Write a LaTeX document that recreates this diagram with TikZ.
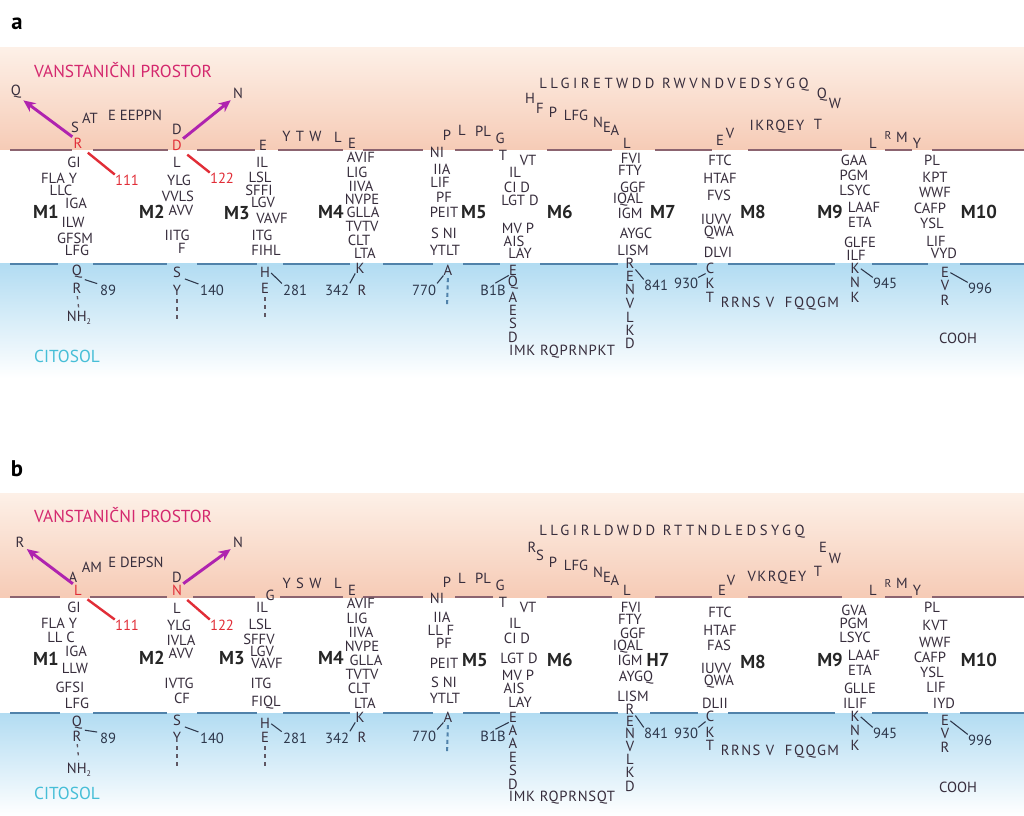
\documentclass[tikz,border=0pt]{standalone}
\usepackage{fontspec}
\setmainfont{PT Sans}
\usetikzlibrary{arrows.meta}
\definecolor{rescol}{RGB}{55,45,60}
\definecolor{numcol}{RGB}{45,55,75}
\definecolor{redc}{RGB}{225,45,55}
\definecolor{magc}{RGB}{175,35,175}
\definecolor{pinkc}{RGB}{212,40,110}
\definecolor{cyanc}{RGB}{70,190,215}
\definecolor{memtop}{RGB}{140,100,112}
\definecolor{membot}{RGB}{80,130,170}
\definecolor{peachA}{RGB}{253,240,231}
\definecolor{peachB}{RGB}{246,203,182}
\definecolor{blueA}{RGB}{178,220,242}
\tikzset{
 res/.style={font=\fontsize{11}{12}\selectfont, text=rescol, inner sep=0pt},
 sres/.style={font=\fontsize{8.5}{10}\selectfont, text=rescol, inner sep=0pt},
 rres/.style={font=\fontsize{11}{12}\selectfont, text=redc, inner sep=0pt},
 num/.style={font=\fontsize{11}{12}\selectfont, text=numcol, inner sep=0pt},
 tmlab/.style={font=\fontsize{14}{15}\selectfont\bfseries, text=black!85, inner sep=0pt},
 panlab/.style={font=\fontsize{17}{18}\selectfont\bfseries, text=black, inner sep=0pt},
 looptxt/.style={font=\fontsize{11}{12}\selectfont\addfontfeatures{LetterSpace=24}, text=rescol, inner sep=0pt},
 trk/.style={font=\fontsize{11}{12}\selectfont\addfontfeatures{LetterSpace=10}, text=rescol, inner sep=0pt},
 ltrk/.style={font=\fontsize{11}{12}\selectfont\addfontfeatures{LetterSpace=5}, text=rescol, inner sep=0pt},
 region/.style={font=\fontsize{13}{14}\selectfont, inner sep=0pt},
 memup/.style={draw=memtop, line width=2.2pt},
 memlo/.style={draw=membot, line width=2.2pt},
 marrow/.style={draw=magc, line width=2.2pt, -{Stealth[length=9pt,width=8pt]}},
 redline/.style={draw=redc, line width=1.8pt},
 tick/.style={draw=numcol, line width=0.8pt},
 dotl/.style={draw=rescol!80, line width=1pt, dash pattern=on 2.5pt off 3.5pt},
 bdash/.style={draw=membot, line width=1.6pt, dash pattern=on 3pt off 2.5pt},
}
\begin{document}
\begin{tikzpicture}[x=0.75pt,y=-0.75pt]
\useasboundingbox (0,0) rectangle (1024,816);
\fill[white] (0,0) rectangle (1024,816);
% ---------- backgrounds
\fill[top color=peachA,bottom color=peachB] (0,48) rectangle (1024,150);
\fill[top color=blueA,bottom color=white] (0,264) rectangle (1024,378);
\fill[top color=peachA,bottom color=peachB] (0,493) rectangle (1024,597);
\fill[top color=blueA,bottom color=white] (0,713) rectangle (1024,816);
% ---------- membranes
\foreach \p/\q in {10/72,93/168,197/255,278/343,363/423,455/493,547/612,655/712,748/842,885/912,932/1024}
  \draw[memup] (\p,150) -- (\q,150);
\foreach \p/\q in {10/58,93/167,197/257,283/350,383/433,463/500,540/618,650/697,728/835,872/928,960/1024}
  \draw[memlo] (\p,264) -- (\q,264);
\foreach \p/\q in {10/60,90/167,193/255,280/343,363/423,455/493,547/612,655/712,748/842,885/912,932/1024}
  \draw[memup] (\p,597) -- (\q,597);
\foreach \p/\q in {10/60,93/167,197/257,283/350,383/433,463/500,540/618,650/698,728/835,872/928,960/1024}
  \draw[memlo] (\p,713) -- (\q,713);

% ================= PANEL A =================
\node[panlab] (aLab) at (17,24) {a};
\node[region,text=pinkc] (aVan) at (123,70) {VANSTANIČNI PROSTOR};
\node[region,text=cyanc] (aCit) at (67,356) {CITOSOL};
% extracellular N-terminal part
\node[res] (aQ) at (16,92) {Q};
\node[res] (aS) at (75,127) {S};
\node[res] (aAT) at (90,118) {AT};
\node[res] (aEE) at (135,115) {E EEPPN};
\node[rres] (aR) at (78,143) {R};
\node[rres] (a111) at (127,180) {111};
\node[res] (aD) at (177,129) {D};
\node[rres] (aDr) at (177,145) {D};
\node[res] (aN) at (238,93) {N};
\node[rres] (a122) at (222,178) {122};
\node[res] (aE3) at (263,145) {E};
\node[trk] (aYTW) at (302,136) {Y T W};
\node[res] (aL4) at (338,137) {L};
\node[res] (aE4) at (352,143) {E};
% TM1
\node[res] (aGI) at (74,162) {GI};
\node[res] (aFLAY) at (59,178) {FLA Y};
\node[res] (aLLC) at (61,190) {LLC};
\node[res] (aIGA) at (76,203) {IGA};
\node[tmlab] (aM1) at (46,212) {M1};
\node[res] (aILW) at (73,222) {ILW};
\node[res] (aGFSM) at (75,238) {GFSM};
\node[res] (aLFG) at (77,250) {LFG};
\node[res] (aQ1) at (77,272) {Q};
\node[num] (a89) at (108,290) {89};
\node[res] (aR1) at (77,288) {R};
\node[res] (aNH) at (79,318) {NH\raisebox{-2.5pt}{\fontsize{6}{6}\selectfont 2}};
% TM2
\node[res] (aL2) at (177,162) {L};
\node[res] (aYLG) at (179,180) {YLG};
\node[res] (aVVLS) at (178,196) {VVLS};
\node[tmlab] (aM2) at (152,212) {M2};
\node[res] (aAVV) at (181,210) {AVV};
\node[res] (aIITG) at (177,235) {IITG};
\node[res] (aF2) at (182,248) {F};
\node[res] (aS2) at (177,272) {S};
\node[num] (a140) at (212,290) {140};
\node[res] (aY2) at (177,290) {Y};
\coordinate (aY2e) at (177,320);
% TM3
\node[res] (aIL3) at (262,162) {IL};
\node[res] (aLSL) at (260,177) {LSL};
\node[res] (aSFFI) at (259,190) {SFFI};
\node[res] (aLGV) at (263,202) {LGV};
\node[tmlab] (aM3) at (237,213) {M3};
\node[res] (aVAVF) at (272,218) {VAVF};
\node[res] (aITG3) at (262,235) {ITG};
\node[res] (aFIHL) at (266,250) {FIHL};
\node[res] (aH3) at (265,272) {H};
\node[num] (a281) at (295,290) {281};
\node[res] (aE3b) at (265,288) {E};
\coordinate (aE3e) at (265,320);
% TM4
\node[res] (aAVIF) at (361,157) {AVIF};
\node[res] (aLIG) at (357,172) {LIG};
\node[res] (aIIVA) at (361,186) {IIVA};
\node[res] (aNVPE) at (362,199) {NVPE};
\node[tmlab] (aM4) at (331,212) {M4};
\node[res] (aGLLA) at (363,212) {GLLA};
\node[res] (aTVTV) at (362,226) {TVTV};
\node[res] (aCLT) at (359,240) {CLT};
\node[res] (aLTA) at (365,253) {LTA};
\node[res] (aK4) at (360,268) {K};
\node[num] (a342) at (337,290) {342};
\node[res] (aR4) at (362,290) {R};
% TM5
\node[res] (aP5) at (447,135) {P};
\node[res] (aL5) at (462,130) {L};
\node[res] (aPL5) at (483,131) {PL};
\node[res] (aG5) at (500,138) {G};
\node[res] (aNI) at (437,152) {NI};
\node[res] (aIIA) at (442,169) {IIA};
\node[res] (aLIF) at (440,182) {LIF};
\node[res] (aPF) at (444,197) {PF};
\node[res] (aPEIT) at (444,212) {PEIT};
\node[tmlab] (aM5) at (474,212) {M5};
\node[res] (aSNI) at (444,233) {S NI};
\node[res] (aYTLT) at (445,250) {YTLT};
\node[res] (aA5) at (448,270) {A};
\node[num] (a770) at (424,290) {770};
\coordinate (aA5e) at (447,306);
% TM6
\node[res] (aT6) at (503,155) {T};
\node[res] (aVT) at (528,160) {VT};
\node[res] (aIL6) at (515,172) {IL};
\node[res] (aCID) at (517,187) {CI D};
\node[res] (aLGTD) at (520,200) {LGT D};
\node[tmlab] (aM6) at (560,212) {M6};
\node[res] (aMVP) at (518,228) {MV P};
\node[res] (aAIS) at (514,241) {AIS};
\node[res] (aLAY) at (520,253) {LAY};
\foreach \t/\y [count=\i] in {E/270,Q/283,A/297,E/310,S/323,D/337}
  \node[res] (aCa\i) at (513,\y) {\t};
\node[ltrk] (aIMK) at (562,352) {IMK RQPRNPKT};
\node[num] (aB1B) at (493,290) {B1B};
% loop M6-M7
\node[looptxt] (aLoop) at (674,85) {LLGIRETWDD RWVNDVEDSYGQ};
\node[res] (aHh) at (530,98) {H};
\node[res] (aFf) at (540,108) {F};
\node[res] (aP7) at (553,112) {P};
\node[res] (aLFG7) at (576,115) {LFG};
\node[res] (aN7) at (598,122) {N};
\node[res] (aE7) at (607,127) {E};
\node[res] (aA7) at (615,130) {A};
\node[res] (aL7) at (627,143) {L};
\node[res] (aQ8) at (822,95) {Q};
\node[res] (aW8) at (835,103) {W};
\node[res] (aT8) at (818,124) {T};
\node[trk] (aIKR) at (777,127) {IKRQEY};
\node[res] (aE8) at (720,140) {E};
\node[res] (aV8) at (730,133) {V};
\node[res] (aL9) at (873,143) {L};
\node[sres] (aR9) at (888,135) {R};
\node[res] (aM9t) at (902,137) {M};
\node[res] (aY9) at (917,143) {Y};
% TM7
\node[res] (aFVI) at (631,158) {FVI};
\node[res] (aFTY) at (630,170) {FTY};
\node[res] (aGGF) at (633,187) {GGF};
\node[res] (aIQAL) at (628,200) {IQAL};
\node[res] (aIGM) at (630,213) {IGM};
\node[tmlab] (aM7) at (663,212) {M7};
\node[res] (aAYGC) at (636,233) {AYGC};
\node[res] (aLISM) at (633,250) {LISM};
\foreach \t/\y [count=\i] in {R/263,E/276,N/289,V/303,L/317,K/330,D/343}
  \node[res] (aCb\i) at (630,\y) {\t};
\node[num] (a841) at (656,285) {841};
\node[num] (a930) at (686,283) {930};
% TM8
\node[res] (aFTC) at (720,160) {FTC};
\node[res] (aHTAF) at (720,178) {HTAF};
\node[res] (aFVS) at (719,195) {FVS};
\node[tmlab] (aM8) at (753,212) {M8};
\node[res] (aIUVV) at (716,219) {IUVV};
\node[res] (aQWA) at (719,233) {QWA};
\node[res] (aDLVI) at (718,252) {DLVI};
\node[res] (aC8) at (710,268) {C};
\node[res] (aK8) at (710,283) {K};
\node[res] (aT8b) at (710,297) {T};
\node[trk] (aRRNS) at (780,304) {RRNS V \ FQQGM};
% TM9
\node[res] (aGAA) at (854,160) {GAA};
\node[res] (aPGM) at (854,175) {PGM};
\node[res] (aLSYC) at (855,190) {LSYC};
\node[res] (aLAAF) at (864,207) {LAAF};
\node[tmlab] (aM9) at (830,212) {M9};
\node[res] (aETA) at (860,222) {ETA};
\node[res] (aGLFE) at (860,242) {GLFE};
\node[res] (aILF) at (856,255) {ILF};
\node[res] (aK9) at (855,268) {K};
\node[num] (a945) at (885,283) {945};
\node[res] (aN9) at (855,282) {N};
\node[res] (aK9b) at (855,297) {K};
% TM10
\node[res] (aPL) at (932,160) {PL};
\node[res] (aKPT) at (935,177) {KPT};
\node[res] (aWWF) at (935,192) {WWF};
\node[res] (aCAFP) at (930,208) {CAFP};
\node[tmlab] (aM10) at (979,212) {M10};
\node[res] (aYSL) at (932,223) {YSL};
\node[res] (aLIF10) at (936,241) {LIF};
\node[res] (aVYD) at (944,253) {VYD};
\node[res] (aE10) at (945,272) {E};
\node[num] (a996) at (980,288) {996};
\node[res] (aV10) at (945,285) {V};
\node[res] (aR10) at (945,300) {R};
\node[res] (aCOOH) at (958,338) {COOH};
% connectors A
\draw[marrow,shorten <=1pt,shorten >=2pt] (aR.north west) -- (aQ.south east);
\draw[marrow,shorten <=1pt,shorten >=2pt] (aDr.north east) -- (aN.south west);
\draw[redline,shorten <=5pt] (aR.south east) -- (a111.north west);
\draw[redline,shorten <=5pt] (aDr.south east) -- (a122.north west);
\draw[tick,shorten <=2pt,shorten >=2pt] (aQ1.south east) -- (a89.north west);
\draw[dotl,shorten <=2pt,shorten >=2pt] (aR1.south) -- (aNH.north);
\draw[tick,shorten <=3pt,shorten >=1pt] (aS2.south east) -- (a140.north west);
\draw[dotl,shorten <=3pt] (aY2.south) -- (aY2e);
\draw[tick,shorten <=1pt,shorten >=1pt] (aH3.east) -- (a281.north west);
\draw[dotl,shorten <=3pt] (aE3b.south) -- (aE3e);
\draw[tick,shorten >=1pt] (aK4.south west) -- (a342.north east);
\draw[tick,shorten >=1pt] (aA5.south west) -- (a770.north east);
\draw[bdash,shorten <=2pt] (aA5.south) -- (aA5e);
\draw[tick,shorten >=2pt] (aCa1.south west) -- (aB1B.north);
\draw[tick,shorten <=1pt] (aCb1.south east) -- (a841.north west);
\draw[tick] (aC8.south west) -- (a930.north east);
\draw[tick,shorten <=1pt] (aK9.east) -- (a945.north west);
\draw[tick,shorten <=1pt] (aE10.east) -- (a996.north west);

% ================= PANEL B =================
\node[panlab] (bLab) at (17,469) {b};
\node[region,text=pinkc] (bVan) at (123,515) {VANSTANIČNI PROSTOR};
\node[region,text=cyanc] (bCit) at (67,793) {CITOSOL};
\node[res] (bRt) at (20,542) {R};
\node[res] (bA) at (73,577) {A};
\node[res] (bAM) at (92,567) {AM};
\node[res] (bED) at (136,562) {E DEPSN};
\node[rres] (bL) at (78,590) {L};
\node[rres] (b111) at (127,625) {111};
\node[res] (bD) at (177,577) {D};
\node[rres] (bNr) at (177,590) {N};
\node[res] (bN) at (238,542) {N};
\node[rres] (b122) at (222,625) {122};
\node[res] (bG3) at (270,595) {G};
\node[trk] (bYSW) at (302,583) {Y S W};
\node[res] (bL4) at (338,583) {L};
\node[res] (bE4) at (352,590) {E};
% TM1
\node[res] (bGI) at (74,607) {GI};
\node[res] (bFLAY) at (59,623) {FLA Y};
\node[res] (bLLC) at (61,637) {LL C};
\node[res] (bIGA) at (76,651) {IGA};
\node[tmlab] (bM1) at (46,659) {M1};
\node[res] (bLLW) at (75,668) {LLW};
\node[res] (bGFSI) at (70,687) {GFSI};
\node[res] (bLFG) at (77,703) {LFG};
\node[res] (bQ1) at (77,723) {Q};
\node[num] (b89) at (108,738) {89};
\node[res] (bR1) at (77,736) {R};
\node[res] (bNH) at (79,770) {NH\raisebox{-2.5pt}{\fontsize{6}{6}\selectfont 2}};
% TM2
\node[res] (bL2) at (177,608) {L};
\node[res] (bYLG) at (179,625) {YLG};
\node[res] (bIVLA) at (181,640) {IVLA};
\node[tmlab] (bM2) at (152,658) {M2};
\node[res] (bAVV) at (181,653) {AVV};
\node[res] (bIVTG) at (179,683) {IVTG};
\node[res] (bCF) at (182,698) {CF};
\node[res] (bS2) at (177,720) {S};
\node[num] (b140) at (212,738) {140};
\node[res] (bY2) at (177,737) {Y};
\coordinate (bY2e) at (177,768);
% TM3
\node[res] (bIL3) at (262,607) {IL};
\node[res] (bLSL) at (260,624) {LSL};
\node[res] (bSFFV) at (259,639) {SFFV};
\node[res] (bLGV) at (262,651) {LGV};
\node[tmlab] (bM3) at (232,658) {M3};
\node[res] (bVAVF) at (267,663) {VAVF};
\node[res] (bITG3) at (261,683) {ITG};
\node[res] (bFIQL) at (266,703) {FIQL};
\node[res] (bH3) at (265,723) {H};
\node[num] (b281) at (295,738) {281};
\node[res] (bE3b) at (265,737) {E};
\coordinate (bE3e) at (265,768);
% TM4
\node[res] (bAVIF) at (361,603) {AVIF};
\node[res] (bLIG) at (357,618) {LIG};
\node[res] (bIIVA) at (361,632) {IIVA};
\node[res] (bNVPE) at (362,646) {NVPE};
\node[tmlab] (bM4) at (331,658) {M4};
\node[res] (bGLLA) at (366,660) {GLLA};
\node[res] (bTVTV) at (362,674) {TVTV};
\node[res] (bCLT) at (359,688) {CLT};
\node[res] (bLTA) at (365,703) {LTA};
\node[res] (bK4) at (360,717) {K};
\node[num] (b342) at (337,738) {342};
\node[res] (bR4) at (362,737) {R};
% TM5
\node[res] (bP5) at (447,582) {P};
\node[res] (bL5) at (462,578) {L};
\node[res] (bPL5) at (483,578) {PL};
\node[res] (bG5) at (500,585) {G};
\node[res] (bNI) at (437,598) {NI};
\node[res] (bIIA) at (442,617) {IIA};
\node[res] (bLLF) at (441,630) {LL F};
\node[res] (bPF) at (444,643) {PF};
\node[res] (bPEIT) at (444,663) {PEIT};
\node[tmlab] (bM5) at (475,660) {M5};
\node[res] (bSNI) at (444,682) {S NI};
\node[res] (bYTLT) at (445,698) {YTLT};
\node[res] (bA5) at (448,717) {A};
\node[num] (b770) at (424,736) {770};
\coordinate (bA5e) at (447,753);
% TM6
\node[res] (bT6) at (503,602) {T};
\node[res] (bVT) at (528,607) {VT};
\node[res] (bIL6) at (515,623) {IL};
\node[res] (bCID) at (517,638) {CI D};
\node[res] (bLGTD) at (519,658) {LGT D};
\node[tmlab] (bM6) at (560,660) {M6};
\node[res] (bMVP) at (518,675) {MV P};
\node[res] (bAIS) at (514,688) {AIS};
\node[res] (bLAY) at (520,702) {LAY};
\foreach \t/\y [count=\i] in {E/717,A/730,A/743,E/757,S/770,D/784}
  \node[res] (bCa\i) at (513,\y) {\t};
\node[ltrk] (bIMK) at (562,798) {IMK RQPRNSQT};
\node[num] (bB1B) at (493,736) {B1B};
% loop
\node[looptxt] (bLoop) at (672,532) {LLGIRLDWDD RTTNDLEDSYGQ};
\node[res] (bRr) at (532,547) {R};
\node[res] (bSs) at (540,555) {S};
\node[res] (bP7) at (553,562) {P};
\node[res] (bLFG7) at (576,565) {LFG};
\node[res] (bN7) at (598,572) {N};
\node[res] (bE7) at (607,577) {E};
\node[res] (bA7) at (615,580) {A};
\node[res] (bL7) at (627,590) {L};
\node[res] (bE8t) at (823,547) {E};
\node[res] (bW8) at (835,558) {W};
\node[res] (bT8) at (818,571) {T};
\node[trk] (bVKR) at (777,578) {VKRQEY};
\node[res] (bE8) at (722,590) {E};
\node[res] (bV8) at (731,580) {V};
\node[res] (bL9) at (873,590) {L};
\node[sres] (bR9) at (888,583) {R};
\node[res] (bM9t) at (902,583) {M};
\node[res] (bY9) at (917,590) {Y};
% TM7
\node[res] (bFVI) at (631,607) {FVI};
\node[res] (bFTY) at (630,619) {FTY};
\node[res] (bGGF) at (633,633) {GGF};
\node[res] (bIQAL) at (628,647) {IQAL};
\node[res] (bIGM) at (630,660) {IGM};
\node[tmlab] (bH7) at (658,660) {H7};
\node[res] (bAYGQ) at (636,678) {AYGQ};
\node[res] (bLISM) at (633,696) {LISM};
\foreach \t/\y [count=\i] in {R/709,E/721,N/733,V/746,L/759,K/772,D/786}
  \node[res] (bCb\i) at (630,\y) {\t};
\node[num] (b841) at (656,733) {841};
\node[num] (b930) at (686,733) {930};
% TM8
\node[res] (bFTC) at (720,612) {FTC};
\node[res] (bHTAF) at (720,630) {HTAF};
\node[res] (bFAS) at (719,645) {FAS};
\node[tmlab] (bM8) at (753,662) {M8};
\node[res] (bIUVV) at (716,668) {IUVV};
\node[res] (bQWA) at (719,682) {QWA};
\node[res] (bDLII) at (715,703) {DLII};
\node[res] (bC8) at (710,716) {C};
\node[res] (bK8) at (710,732) {K};
\node[res] (bT8b) at (710,745) {T};
\node[trk] (bRRNS) at (780,752) {RRNS V \ FQQGM};
% TM9
\node[res] (bGVA) at (854,610) {GVA};
\node[res] (bPGM) at (854,623) {PGM};
\node[res] (bLSYC) at (855,637) {LSYC};
\node[res] (bLAAF) at (864,655) {LAAF};
\node[tmlab] (bM9) at (830,660) {M9};
\node[res] (bETA) at (860,670) {ETA};
\node[res] (bGLLE) at (860,688) {GLLE};
\node[res] (bILIF) at (855,703) {ILIF};
\node[res] (bK9) at (855,716) {K};
\node[num] (b945) at (885,733) {945};
\node[res] (bN9) at (855,730) {N};
\node[res] (bK9b) at (855,745) {K};
% TM10
\node[res] (bPL) at (932,607) {PL};
\node[res] (bKVT) at (935,625) {KVT};
\node[res] (bWWF) at (935,642) {WWF};
\node[res] (bCAFP) at (930,657) {CAFP};
\node[tmlab] (bM10) at (979,660) {M10};
\node[res] (bYSL) at (932,672) {YSL};
\node[res] (bLIF10) at (936,687) {LIF};
\node[res] (bIYD) at (944,703) {IYD};
\node[res] (bE10) at (945,720) {E};
\node[num] (b996) at (980,740) {996};
\node[res] (bV10) at (945,733) {V};
\node[res] (bR10) at (945,747) {R};
\node[res] (bCOOH) at (958,787) {COOH};
% connectors B
\draw[marrow,shorten <=1pt,shorten >=2pt] (bL.north west) -- (bRt.south east);
\draw[marrow,shorten <=1pt,shorten >=2pt] (bNr.north east) -- (bN.south west);
\draw[redline,shorten <=5pt] (bL.south east) -- (b111.north west);
\draw[redline,shorten <=5pt] (bNr.south east) -- (b122.north west);
\draw[tick,shorten <=2pt,shorten >=2pt] (bQ1.south east) -- (b89.north west);
\draw[dotl,shorten <=2pt,shorten >=2pt] (bR1.south) -- (bNH.north);
\draw[tick,shorten <=3pt,shorten >=1pt] (bS2.south east) -- (b140.north west);
\draw[dotl,shorten <=3pt] (bY2.south) -- (bY2e);
\draw[tick,shorten <=1pt,shorten >=1pt] (bH3.east) -- (b281.north west);
\draw[dotl,shorten <=3pt] (bE3b.south) -- (bE3e);
\draw[tick,shorten >=1pt] (bK4.south west) -- (b342.north east);
\draw[tick,shorten >=1pt] (bA5.south west) -- (b770.north east);
\draw[bdash,shorten <=2pt] (bA5.south) -- (bA5e);
\draw[tick,shorten >=2pt] (bCa1.south west) -- (bB1B.north);
\draw[tick,shorten <=1pt] (bCb1.south east) -- (b841.north west);
\draw[tick] (bC8.south west) -- (b930.north east);
\draw[tick,shorten <=1pt] (bK9.east) -- (b945.north west);
\draw[tick,shorten <=1pt] (bE10.east) -- (b996.north west);
\end{tikzpicture}
\end{document}
